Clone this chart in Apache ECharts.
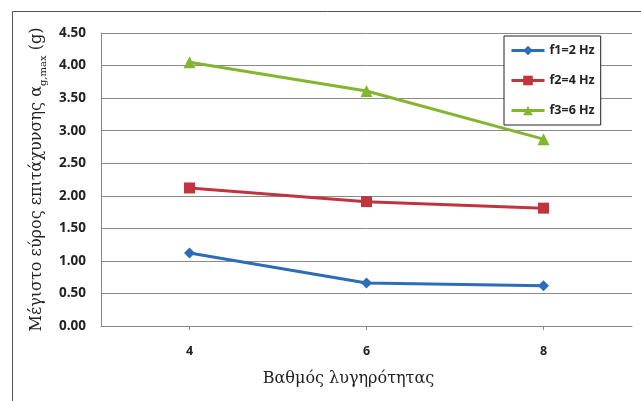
<!DOCTYPE html>
<html>
<head>
<meta charset="utf-8">
<script src="https://cdn.jsdelivr.net/npm/echarts@6/dist/echarts.min.js"></script>
<style>
  html, body { margin: 0; padding: 0; background: #fff; }
  #chart { width: 641px; height: 401px; }
</style>
</head>
<body>
<div id="chart"></div>
<script>
// Slenderness grade on the x axis
const categories = ['4', '6', '8'];
// Peak ground acceleration amplitude (g) per excitation frequency
const f1Values = [1.12, 0.66, 0.62];
const f2Values = [2.12, 1.91, 1.81];
const f3Values = [4.05, 3.61, 2.87];
const seriesNames = ['f1=2 Hz', 'f2=4 Hz', 'f3=6 Hz'];

const labelFont = '"Open Sans", "Liberation Sans", sans-serif';
const titleFont = '"DejaVu Serif", "Liberation Serif", serif';

const chart = echarts.init(document.getElementById('chart'), null, { renderer: 'canvas' });

function lineSeries(name, data, color, symbol, size) {
  return {
    name: name,
    type: 'line',
    data: data,
    symbol: symbol,
    symbolSize: size,
    lineStyle: { color: color, width: 3 },
    itemStyle: { color: color },
    emphasis: { disabled: true },
    animation: false
  };
}

chart.setOption({
  backgroundColor: '#ffffff',
  animation: false,
  graphic: [{
    type: 'rect',
    left: 10, top: 9,
    shape: { width: 660, height: 420 },
    style: { fill: 'none', stroke: '#555', lineWidth: 1 },
    silent: true, z: -1
  }],
  grid: { left: 101, right: 9, top: 33, bottom: 75, containLabel: false },
  legend: {
    orient: 'vertical',
    left: 504, top: 36,
    width: 95,
    padding: [8, 6, 8, 6],
    itemGap: 17,
    itemWidth: 33,
    itemHeight: 12,
    borderColor: '#222',
    borderWidth: 1,
    backgroundColor: '#fff',
    data: seriesNames,
    lineStyle: { width: 3 },
    textStyle: { fontFamily: labelFont, fontWeight: 'bold', fontSize: 12.5, color: '#222' }
  },
  xAxis: {
    type: 'category',
    data: categories,
    boundaryGap: true,
    name: 'Βαθμός λυγηρότητας',
    nameLocation: 'middle',
    nameGap: 45,
    nameTextStyle: { fontFamily: titleFont, fontSize: 16, color: '#222', padding: [0, 36, 0, 0] },
    axisLine: { lineStyle: { color: '#888', width: 1 } },
    axisTick: { show: true, alignWithLabel: true, length: 4, lineStyle: { color: '#888' } },
    axisLabel: { margin: 19, fontFamily: labelFont, fontWeight: 'bold', fontSize: 12.5, color: '#222' },
    splitLine: { show: false }
  },
  yAxis: {
    type: 'value',
    min: 0, max: 4.5, interval: 0.5,
    name: '{t|Μέγιστο εύρος επιτάχυνσης α}{s|g,max}{t| (g)}',
    nameLocation: 'middle',
    nameGap: 55,
    nameRotate: 90,
    nameTextStyle: {
      rich: {
        t: { fontFamily: titleFont, fontSize: 16, color: '#222', lineHeight: 20, verticalAlign: 'bottom' },
        s: { fontFamily: titleFont, fontSize: 10, color: '#222', lineHeight: 20, verticalAlign: 'bottom', padding: [0, 0, -3, 0] }
      }
    },
    axisLine: { show: true, lineStyle: { color: '#888', width: 1 } },
    axisTick: { show: false },
    axisLabel: {
      margin: 15,
      fontFamily: labelFont, fontWeight: 'bold', fontSize: 13.5, color: '#222',
      formatter: v => v.toFixed(2)
    },
    splitLine: { lineStyle: { color: '#8a8a8a', width: 1 } }
  },
  series: [
    lineSeries(seriesNames[0], f1Values, '#2c6cb8', 'diamond', 11),
    lineSeries(seriesNames[1], f2Values, '#c0353d', 'rect', 11),
    lineSeries(seriesNames[2], f3Values, '#84b52e', 'triangle', 12)
  ]
});
</script>
</body>
</html>
